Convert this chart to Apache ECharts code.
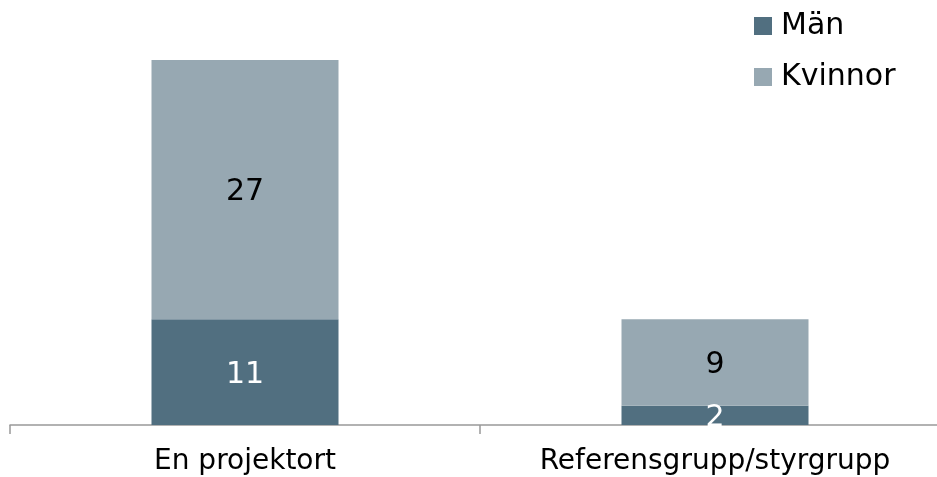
<!DOCTYPE html>
<html>
<head>
<meta charset="utf-8">
<script src="https://cdn.jsdelivr.net/npm/echarts@6/dist/echarts.min.js"></script>
<style>
  html, body { margin: 0; padding: 0; background: #fff; overflow: hidden; }
  /* plot area runs slightly past the right edge of the window, like the original */
  #chart { width: 950px; height: 477px; }
</style>
</head>
<body>
<div id="chart"></div>
<script>
// Stacked bars: men / women per group
const categories = ['En projektort', 'Referensgrupp/styrgrupp'];
const men = [11, 2];
const women = [27, 9];

const COLORS = {
  men: '#516f80',
  women: '#97a8b2',
};

const FONT = '"DejaVu Sans", Verdana, sans-serif';

const chart = echarts.init(document.getElementById('chart'), null, { renderer: 'canvas' });

chart.setOption({
  backgroundColor: '#ffffff',
  animation: false,
  textStyle: { fontFamily: FONT },
  legend: {
    data: ['Män', 'Kvinnor'],
    orient: 'vertical',
    left: 754,
    top: 11,
    padding: 0,
    itemWidth: 18,
    itemHeight: 18,
    itemGap: 21,
    icon: 'rect',
    textStyle: { fontFamily: FONT, fontSize: 30, color: '#000', padding: [0, 0, 0, 4] },
  },
  grid: { left: 10, right: 0, top: 60, bottom: 52, containLabel: false },
  xAxis: {
    type: 'category',
    data: categories,
    axisLine: { lineStyle: { color: '#999', width: 1.5 } },
    axisTick: { show: true, length: 9, lineStyle: { color: '#999', width: 1.5 } },
    axisLabel: { fontFamily: FONT, fontSize: 28, color: '#000', margin: 23 },
  },
  yAxis: {
    type: 'value',
    min: 0,
    max: 38,
    show: false,
  },
  series: [
    {
      name: 'Män',
      type: 'bar',
      stack: 'total',
      barWidth: 187,
      data: men,
      itemStyle: { color: COLORS.men },
      label: { show: true, position: 'inside', offset: [0, 3], fontFamily: FONT, fontSize: 30, color: '#fff' },
    },
    {
      name: 'Kvinnor',
      type: 'bar',
      stack: 'total',
      barWidth: 187,
      data: women,
      itemStyle: { color: COLORS.women },
      label: { show: true, position: 'inside', offset: [0, 3], fontFamily: FONT, fontSize: 30, color: '#000' },
    },
  ],
});
</script>
</body>
</html>
